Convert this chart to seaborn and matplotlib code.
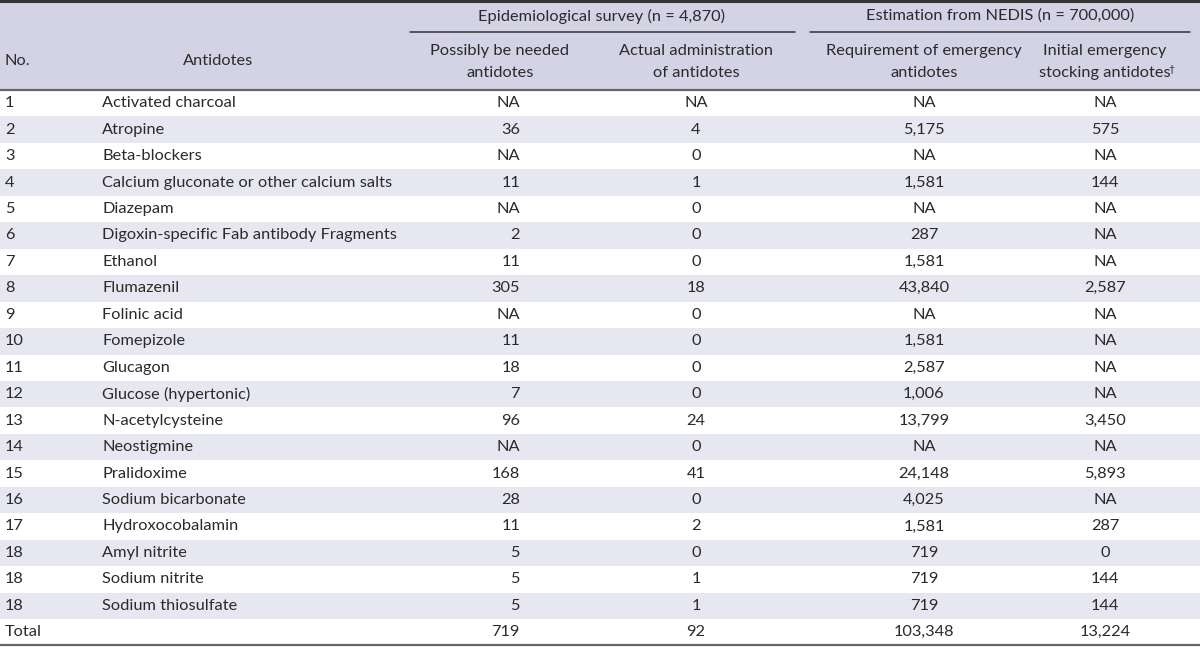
import matplotlib
matplotlib.use("Agg")
import matplotlib.pyplot as plt
import seaborn as sns

# table content
nos = ["1", "2", "3", "4", "5", "6", "7", "8", "9", "10", "11", "12", "13", "14",
       "15", "16", "17", "18", "18", "18"]
antidotes = [
    "Activated charcoal", "Atropine", "Beta-blockers",
    "Calcium gluconate or other calcium salts", "Diazepam",
    "Digoxin-specific Fab antibody Fragments", "Ethanol", "Flumazenil",
    "Folinic acid", "Fomepizole", "Glucagon", "Glucose (hypertonic)",
    "N-acetylcysteine", "Neostigmine", "Pralidoxime", "Sodium bicarbonate",
    "Hydroxocobalamin", "Amyl nitrite", "Sodium nitrite", "Sodium thiosulfate",
]
# None = NA
possibly_needed = [None, 36, None, 11, None, 2, 11, 305, None, 11, 18, 7, 96, None,
                   168, 28, 11, 5, 5, 5]
actual_admin = [None, 4, 0, 1, 0, 0, 0, 18, 0, 0, 0, 0, 24, 0, 41, 0, 2, 0, 1, 1]
requirement = [None, 5175, None, 1581, None, 287, 1581, 43840, None, 1581, 2587, 1006,
               13799, None, 24148, 4025, 1581, 719, 719, 719]
initial_stock = [None, 575, None, 144, None, None, None, 2587, None, None, None, None,
                 3450, None, 5893, None, 287, 0, 144, 144]
totals = [719, 92, 103348, 13224]

group_titles = ["Epidemiological survey (n = 4,870)", "Estimation from NEDIS (n = 700,000)"]
col_titles = [
    ("Possibly be needed", "antidotes"),
    ("Actual administration", "of antidotes"),
    ("Requirement of emergency", "antidotes"),
    ("Initial emergency", "stocking antidotes"),
]


def fmt(v):
    return "NA" if v is None else f"{v:,}"


sns.set_theme(style="white")
plt.rcParams["font.family"] = ["Lato", "DejaVu Sans"]

HEADER_BG = "#d4d3e6"
STRIPE_BG = "#e7e7f1"
TEXT = "#2a2a2a"
FS = 11.8

fig = plt.figure(figsize=(12, 6.48), dpi=100)
ax = fig.add_axes([0, 0, 1, 1])
ax.set_xlim(0, 1200)
ax.set_ylim(648, 0)
ax.axis("off")

header_h = 90
row_h = 26.45
n_rows = len(antidotes) + 1

# backgrounds
ax.axhspan(0, header_h, color=HEADER_BG, lw=0)
for i in range(n_rows):
    if i % 2 == 1:
        ax.axhspan(header_h + i * row_h, header_h + (i + 1) * row_h, color=STRIPE_BG, lw=0)

# rules
ax.axhline(1.2, color="#333333", lw=2.2)
ax.axhline(header_h, color="#666666", lw=1.6)
ax.axhline(header_h + n_rows * row_h, color="#666666", lw=1.6)
ax.plot([410, 795], [32, 32], color="#333333", lw=1.1)
ax.plot([810, 1190], [32, 32], color="#333333", lw=1.1)

# header text
ax.text(5, 61, "No.", ha="left", va="center", fontsize=FS, color=TEXT)
ax.text(218, 61, "Antidotes", ha="center", va="center", fontsize=FS, color=TEXT)
ax.text(602, 16, group_titles[0], ha="center", va="center", fontsize=FS, color=TEXT)
ax.text(1000, 16, group_titles[1], ha="center", va="center", fontsize=FS, color=TEXT)
col_x = [500, 696, 924, 1105]
for x, (l1, l2) in zip(col_x, col_titles):
    ax.text(x, 51, l1, ha="center", va="center", fontsize=FS, color=TEXT)
    last = ax.text(x, 73, l2, ha="center", va="center", fontsize=FS, color=TEXT)
# footnote dagger on the last header
ax.annotate("\u2020", xy=(1, 1), xycoords=last, xytext=(-1.5, 0.5),
            textcoords="offset points", ha="left", va="top", fontsize=7.5, color=TEXT)

# body
num_right = 520
for i in range(len(antidotes)):
    y = header_h + (i + 0.5) * row_h
    ax.text(5, y, nos[i], ha="left", va="center", fontsize=FS, color=TEXT)
    ax.text(102, y, antidotes[i], ha="left", va="center", fontsize=FS, color=TEXT)
    ax.text(num_right, y, fmt(possibly_needed[i]), ha="right", va="center",
            fontsize=FS, color=TEXT)
    ax.text(col_x[1], y, fmt(actual_admin[i]), ha="center", va="center",
            fontsize=FS, color=TEXT)
    ax.text(col_x[2], y, fmt(requirement[i]), ha="center", va="center",
            fontsize=FS, color=TEXT)
    ax.text(col_x[3], y, fmt(initial_stock[i]), ha="center", va="center",
            fontsize=FS, color=TEXT)

y = header_h + (n_rows - 0.5) * row_h
ax.text(5, y, "Total", ha="left", va="center", fontsize=FS, color=TEXT)
ax.text(num_right, y, fmt(totals[0]), ha="right", va="center", fontsize=FS, color=TEXT)
for x, v in zip(col_x[1:], totals[1:]):
    ax.text(x, y, fmt(v), ha="center", va="center", fontsize=FS, color=TEXT)

fig.savefig("out.png", dpi=100, facecolor="white")
